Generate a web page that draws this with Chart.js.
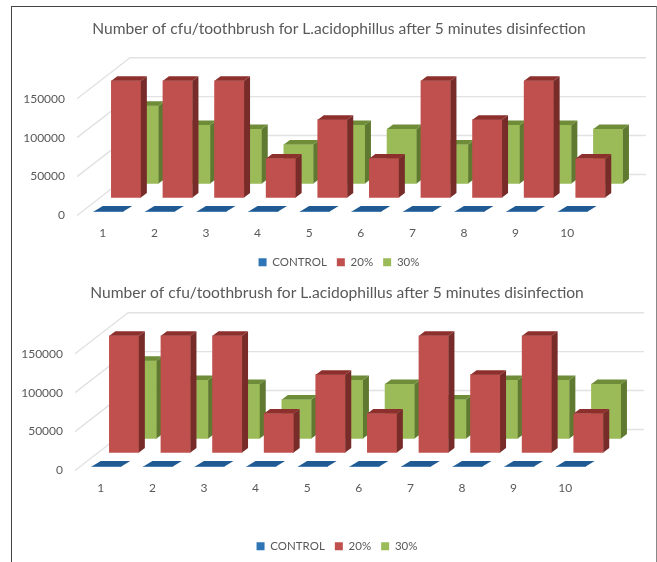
<!DOCTYPE html>
<html>
<head>
<meta charset="utf-8">
<script src="https://cdn.jsdelivr.net/npm/chart.js@4"></script>
<style>
  html, body { margin: 0; padding: 0; background: #fff; overflow: hidden; }
  #page { position: relative; width: 657px; height: 562px; overflow: hidden; }
  #frame { position: absolute; left: 11px; top: 6px; width: 644px; height: 560px;
           border-left: 1px solid #444; border-top: 1px solid #444; border-right: 1px solid #888; }
  canvas { position: absolute; filter: blur(0.4px); }
</style>
</head>
<body>
<div id="page">
  <div id="frame"></div>
  <canvas id="chartTop" style="left:12px;top:7px;width:654px;height:271px"></canvas>
  <canvas id="chartBottom" style="left:10px;top:262px;width:654px;height:300px"></canvas>
</div>
<script>
// values
const chartTitle = 'Number of cfu/toothbrush for L.acidophillus after 5 minutes disinfection';
const categories = ['1', '2', '3', '4', '5', '6', '7', '8', '9', '10'];
const control = [0, 0, 0, 0, 0, 0, 0, 0, 0, 0];
const pct20 = [150000, 150000, 150000, 50000, 100000, 50000, 150000, 100000, 150000, 50000];
const pct30 = [100000, 75000, 70000, 50000, 75000, 70000, 50000, 75000, 75000, 70000];
const yTicks = [0, 50000, 100000, 150000];

const fontName = 'Lato, "Open Sans", sans-serif';
const textColor = '#595959';
const wallDepth = { x: 53, y: 41 };

// fake 3D: walls behind the bars, each series pushed back and given a top and a side face
const walls3d = {
    id: 'walls3d',
    beforeDatasetsDraw(chart) {
        const { ctx, chartArea, scales } = chart;
        ctx.save();
        ctx.strokeStyle = '#e2e2e2';
        ctx.lineWidth = 1.4;
        yTicks.forEach(v => {
            const y = scales.y.getPixelForValue(v);
            ctx.beginPath();
            ctx.moveTo(chartArea.left, y);
            ctx.lineTo(chartArea.left + wallDepth.x, y - wallDepth.y);
            ctx.lineTo(chartArea.right + wallDepth.x, y - wallDepth.y);
            ctx.stroke();
        });
        ctx.restore();
    },
    beforeDatasetDraw(chart, args) {
        const ds = chart.data.datasets[args.index];
        chart.ctx.save();
        chart.ctx.translate(ds.shift.x, ds.shift.y);
    },
    afterDatasetDraw(chart, args) {
        const ctx = chart.ctx;
        const ds = chart.data.datasets[args.index];
        args.meta.data.forEach(bar => {
            const left = bar.x - bar.width / 2;
            const right = bar.x + bar.width / 2;
            const d = ds.depth;
            // side
            ctx.fillStyle = ds.sideColor;
            ctx.beginPath();
            ctx.moveTo(right, bar.y);
            ctx.lineTo(right + d.x, bar.y - d.y);
            ctx.lineTo(right + d.x, bar.base - d.y);
            ctx.lineTo(right, bar.base);
            ctx.closePath();
            ctx.fill();
            // top
            ctx.fillStyle = ds.topColor;
            ctx.beginPath();
            ctx.moveTo(left, bar.y);
            ctx.lineTo(left + d.x, bar.y - d.y);
            ctx.lineTo(right + d.x, bar.y - d.y);
            ctx.lineTo(right, bar.y);
            ctx.closePath();
            ctx.fill();
        });
        ctx.restore();
    }
};

function makeChart(id, spacing) {
    return new Chart(document.getElementById(id), {
        type: 'bar',
        data: {
            labels: categories,
            datasets: [
                { label: 'CONTROL', data: control, backgroundColor: '#2e75b6', topColor: '#205a92', sideColor: '#205a92',
                  shift: { x: 5.7, y: -4 }, depth: { x: 9, y: 5.5 } },
                { label: '20%', data: pct20, backgroundColor: '#c0504d', topColor: '#8c2f2d', sideColor: '#772c2a',
                  shift: { x: 23.3, y: -18 }, depth: { x: 6, y: 4.5 } },
                { label: '30%', data: pct30, backgroundColor: '#9bbb59', topColor: '#6f8c38', sideColor: '#5f7a30',
                  shift: { x: 41, y: -32 }, depth: { x: 6, y: 4.5 } }
            ]
        },
        plugins: [walls3d],
        options: {
            responsive: false,
            animation: false,
            datasets: { bar: { grouped: false, barThickness: 29.5, clip: false } },
            plugins: {
                title: {
                    display: true,
                    text: chartTitle,
                    color: textColor,
                    font: { family: fontName, size: 15.6, weight: 'normal' },
                    padding: { top: spacing.titleTop, bottom: spacing.titleBottom }
                },
                legend: {
                    position: 'bottom',
                    labels: {
                        color: textColor,
                        boxWidth: 8,
                        boxHeight: 8,
                        padding: 10,
                        font: { family: fontName, size: 11.5 }
                    }
                },
                tooltip: { enabled: false }
            },
            scales: {
                x: {
                    grid: { display: false },
                    border: { display: false },
                    ticks: { color: textColor, padding: 2, font: { family: fontName, size: 12 } },
                    afterFit: s => { s.height = spacing.xAxis; }
                },
                y: {
                    min: 0,
                    max: 150000,
                    grid: { display: false },
                    border: { display: false },
                    ticks: { color: textColor, stepSize: 50000, padding: 4, font: { family: fontName, size: 12 }, callback: v => String(v) },
                    afterFit: s => { s.width = 65; }
                },
                // empty axis, only keeps room on the right so title and legend stay centred on the canvas
                spare: {
                    position: 'right',
                    grid: { display: false },
                    border: { display: false },
                    ticks: { display: false },
                    afterFit: s => { s.width = 73; }
                }
            }
        }
    });
}

document.getElementById('chartTop').width = 654;
document.getElementById('chartTop').height = 271;
document.getElementById('chartBottom').width = 654;
document.getElementById('chartBottom').height = 300;

makeChart('chartTop', { titleTop: 13, titleBottom: 60, xAxis: 31 });
makeChart('chartBottom', { titleTop: 22, titleBottom: 51, xAxis: 60 });
</script>
</body>
</html>
